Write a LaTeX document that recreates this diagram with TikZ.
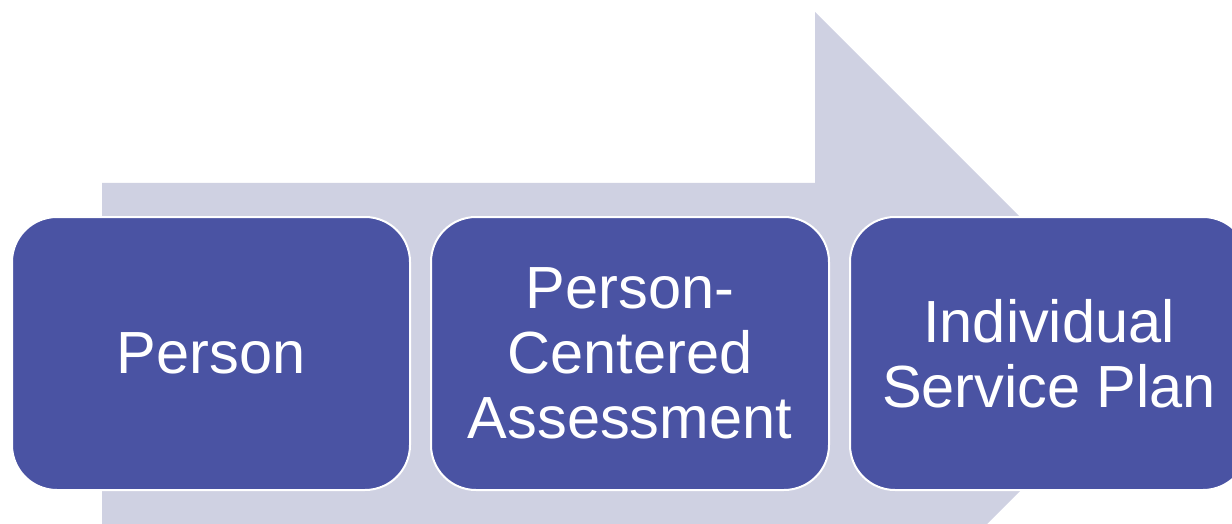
\documentclass[tikz,border=0pt]{standalone}
\usepackage{fontspec}
\setmainfont{Liberation Sans}
\usetikzlibrary{calc}

\definecolor{stepblue}{HTML}{4A53A3}
\definecolor{arrowgray}{HTML}{CFD1E2}

\tikzset{
    stepbox/.style={draw=white, line width=2pt, fill=stepblue, text=white,
        rounded corners=45pt, minimum width=398pt, minimum height=273pt,
        align=center, font=\fontsize{59.5}{65}\selectfont}
}

\begin{document}
\begin{tikzpicture}[x=1pt, y=-1pt]
    \useasboundingbox (0, 0) rectangle (1232, 524);
    \clip (0, 0) rectangle (1232, 524);
    % big arrow in the back
    \fill [arrowgray] (102, 183) -- (815, 183) -- (815, 12) -- (1157, 354)
        -- (815, 696) -- (815, 525) -- (102, 525) -- cycle;
    \node [stepbox] (P) at (211, 353.5) {Person};
        \node [stepbox] (A) at ($(P) + (419, 0)$) {Person-\\Centered\\Assessment};
        \node [stepbox] (S) at ($(A) + (419, 0)$) {Individual\\Service Plan};
\end{tikzpicture}
\end{document}
